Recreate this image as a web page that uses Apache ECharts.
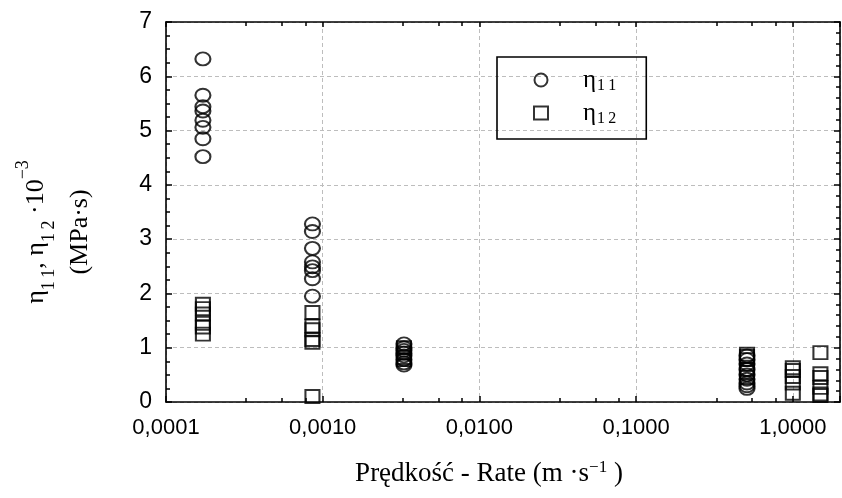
<!DOCTYPE html>
<html>
<head>
<meta charset="utf-8">
<script src="https://cdn.jsdelivr.net/npm/echarts@6/dist/echarts.min.js"></script>
<style>html,body{margin:0;padding:0;background:#fff}#c{width:842px;height:498px}</style>
</head>
<body>
<div id="c"></div>
<script>
// Rate groups (m·s^-1), x positions of the clusters
var rateGroups = [0.000172, 0.00086, 0.0033, 0.51, 1.0, 1.5];
// η11 values per rate group
var eta11 = [
  [6.32, 5.65, 5.44, 5.36, 5.19, 5.06, 4.85, 4.52],
  [3.28, 3.14, 2.83, 2.58, 2.49, 2.42, 2.27, 1.95],
  [1.07, 1.0, 0.95, 0.9, 0.85, 0.78, 0.72, 0.68],
  [0.85, 0.78, 0.7, 0.6, 0.5, 0.42, 0.35, 0.3, 0.25],
  [],
  []
];
// η12 values per rate group
var eta12 = [
  [1.80, 1.72, 1.62, 1.45, 1.38, 1.25],
  [1.65, 1.40, 1.33, 1.15, 1.10, 0.1],
  [1.0, 0.9, 0.82, 0.78],
  [0.88, 0.84, 0.78, 0.6, 0.55, 0.45],
  [0.63, 0.58, 0.47, 0.35, 0.16],
  [0.91, 0.52, 0.45, 0.27, 0.15, 0.12]
];
var xTickValues = [0.0001, 0.001, 0.01, 0.1, 1];
var yTicks = [0, 1, 2, 3, 4, 5, 6, 7];

function build(groups) {
  var out = [];
  groups.forEach(function (vals, i) {
    vals.forEach(function (v) { out.push([rateGroups[i], v]); });
  });
  return out;
}
function isDecade(v) {
  var l = Math.log10(v);
  return Math.abs(l - Math.round(l)) < 1e-6;
}

var chart = echarts.init(document.getElementById('c'), null, {renderer: 'canvas'});
var serif = '"Liberation Serif", "Times New Roman", serif';
var sans = '"Liberation Sans", Arial, sans-serif';
var grid = {color: '#bdbdbd', width: 1, type: [4, 3]};
var S = '\u2009';

var option = {
  backgroundColor: '#fff',
  animation: false,
  grid: {left: 166, right: 2, top: 22, bottom: 96},
  legend: {
    left: 497, top: 57,
    orient: 'vertical',
    padding: [9, 30, 12, 36],
    itemGap: 5,
    itemWidth: 14, itemHeight: 13,
    borderColor: '#000', borderWidth: 1.6,
    formatter: function (n) { return n === 'η11' ? '{e|η}{s|1' + S + '1}' : '{e|η}{s|1' + S + '2}'; },
    textStyle: {
      rich: {
        e: {fontFamily: serif, fontSize: 25, color: '#000', lineHeight: 24, padding: [0, 0, 0, 30]},
        s: {fontFamily: serif, fontSize: 16, color: '#000', lineHeight: 6, padding: [12, 0, 0, 1]}
      }
    },
    data: ['η11', 'η12']
  },
  xAxis: [{
    type: 'log', logBase: 10, min: 0.0001, max: 2,
    position: 'bottom',
    axisLine: {show: true, onZero: false, lineStyle: {color: '#000', width: 1.6}},
    axisTick: {show: true, inside: true, length: 6, lineStyle: {color: '#000', width: 1.5}},
    minorTick: {show: true, splitNumber: 4, length: 4, lineStyle: {color: '#000', width: 1.5}},
    splitLine: {show: true, lineStyle: grid},
    axisLabel: {
      margin: 15, fontFamily: sans, fontSize: 22, color: '#000', showMaxLabel: false,
      formatter: function (v) { return isDecade(v) ? v.toFixed(4).replace('.', ',') : ''; }
    },
    name: '{t|Prędkość - Rate (m ·s}{p|−1}{t| )}',
    nameLocation: 'middle', nameGap: 57,
    nameTextStyle: {
      padding: [0, 28, 0, 0],
      rich: {
        t: {fontFamily: serif, fontSize: 27, color: '#000', lineHeight: 30},
        p: {fontFamily: serif, fontSize: 17, color: '#000', lineHeight: 18, verticalAlign: 'top'}
      }
    }
  }, {
    type: 'log', logBase: 10, min: 0.0001, max: 2,
    position: 'top',
    axisLine: {show: true, onZero: false, lineStyle: {color: '#000', width: 1.6}},
    axisTick: {show: true, inside: true, length: 5, lineStyle: {color: '#000', width: 1.5}},
    minorTick: {show: true, splitNumber: 4, length: 4, lineStyle: {color: '#000', width: 1.5}},
    splitLine: {show: false},
    axisLabel: {show: false}
  }],
  yAxis: [{
    type: 'value', min: yTicks[0], max: yTicks[yTicks.length - 1], interval: 1,
    position: 'left',
    axisLine: {show: true, onZero: false, lineStyle: {color: '#000', width: 1.6}},
    axisTick: {show: true, inside: true, length: 6, lineStyle: {color: '#000', width: 1.5}},
    minorTick: {show: true, splitNumber: 4, length: 4, lineStyle: {color: '#000', width: 1.5}},
    splitLine: {show: true, lineStyle: grid},
    axisLabel: {margin: 14, fontFamily: sans, fontSize: 23, color: '#000'},
    name: '{e|η}{b|1' + S + '1}{e|, η}{b|1' + S + '2}{e| ·10}{p|−3}\n{e|(MPa·s)}',
    nameLocation: 'middle', nameGap: 64, nameRotate: 90,
    nameTextStyle: {
      padding: [0, 40, 0, 0],
      align: 'center',
      rich: {
        e: {fontFamily: serif, fontSize: 26, color: '#000', lineHeight: 44, align: 'center'},
        b: {fontFamily: serif, fontSize: 18, color: '#000', lineHeight: 28, verticalAlign: 'bottom'},
        p: {fontFamily: serif, fontSize: 18, color: '#000', lineHeight: 34, verticalAlign: 'top'}
      }
    }
  }, {
    type: 'value', min: yTicks[0], max: yTicks[yTicks.length - 1], interval: 1,
    position: 'right',
    axisLine: {show: true, onZero: false, lineStyle: {color: '#000', width: 1.6}},
    axisTick: {show: true, inside: true, length: 6, lineStyle: {color: '#000', width: 1.5}},
    minorTick: {show: true, splitNumber: 5, length: 4, lineStyle: {color: '#000', width: 1.5}},
    splitLine: {show: false},
    axisLabel: {show: false}
  }],
  series: [{
    name: 'η11', type: 'scatter', xAxisIndex: 0, yAxisIndex: 0,
    symbol: 'circle', symbolSize: [15, 13],
    itemStyle: {color: 'rgba(255,255,255,0)', borderColor: '#000', borderWidth: 2},
    data: build(eta11)
  }, {
    name: 'η12', type: 'scatter', xAxisIndex: 0, yAxisIndex: 0,
    symbol: 'rect', symbolSize: [14, 13],
    itemStyle: {color: 'rgba(255,255,255,0)', borderColor: '#000', borderWidth: 2},
    data: build(eta12)
  }]
};
chart.setOption(option);
</script>
</body>
</html>
